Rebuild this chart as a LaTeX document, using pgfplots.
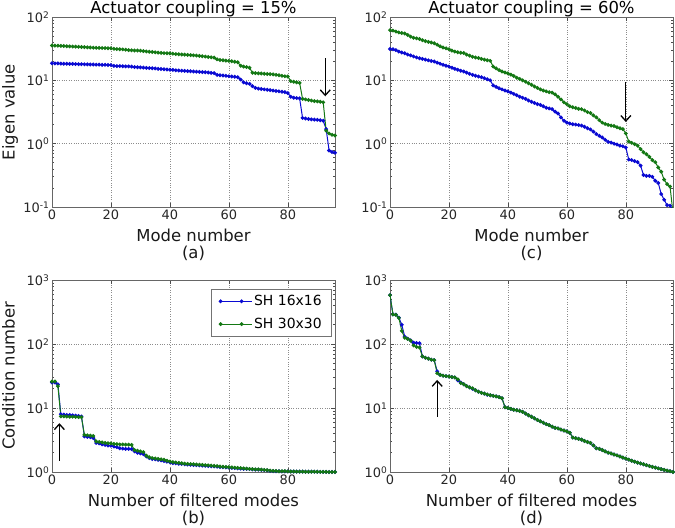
\documentclass[border=0pt]{standalone}
\usepackage{fontspec}
\setmainfont{DejaVu Sans}
\usepackage{pgfplots}
\pgfplotsset{compat=1.18}
\usepackage{pgfplotstable}
\usetikzlibrary{arrows.meta}
\definecolor{mblue}{RGB}{10,10,210}
\definecolor{mgreen}{RGB}{20,120,20}

\pgfplotstableread{
x b g
0 18.6 35.5
1 18.5 35.3
2 18.5 35.2
3 18.4 35.0
4 18.3 34.8
5 18.3 34.6
6 18.2 34.4
7 18.2 34.2
8 18.1 34.0
9 18.0 33.8
10 18.0 33.6
11 17.9 33.4
12 17.9 33.2
13 17.8 33.0
14 17.8 32.8
15 17.7 32.6
16 17.7 32.5
17 17.6 32.4
18 17.6 32.3
19 17.5 32.2
20 17.4 32.0
21 16.9 31.5
22 16.8 31.2
23 16.8 31.0
24 16.7 30.8
25 16.6 30.5
26 16.6 30.0
27 16.5 29.8
28 16.2 29.6
29 16.1 29.5
30 16.0 29.4
31 15.9 29.0
32 15.7 28.6
33 15.6 28.3
34 15.5 28.0
35 15.4 27.7
36 15.2 27.4
37 15.1 27.1
38 15.0 26.9
39 14.8 26.8
40 14.7 26.7
41 14.6 26.3
42 14.4 26.0
43 14.3 25.8
44 14.2 25.6
45 14.1 25.4
46 14.0 25.2
47 13.9 25.0
48 13.8 24.8
49 13.7 24.6
50 13.6 24.3
51 13.5 24.0
52 13.4 23.7
53 13.3 23.4
54 13.1 23.1
55 13.0 22.9
56 12.2 21.5
57 12.0 21.0
58 11.9 20.8
59 11.8 20.5
60 11.6 20.3
61 11.5 20.0
62 11.4 19.6
63 11.2 19.3
64 10.3 17.0
65 9.3 16.5
66 9.0 16.2
67 8.8 15.8
68 8.1 13.2
69 7.6 13.0
70 7.4 12.9
71 7.3 12.8
72 7.2 12.7
73 7.1 12.6
74 7.0 12.5
75 6.9 12.4
76 6.8 12.2
77 6.7 12.0
78 6.6 11.8
79 6.5 11.6
80 6.3 11.5
81 5.5 9.7
82 5.3 9.5
83 5.25 9.3
84 5.2 9.1
85 2.55 5.1
86 2.5 5.0
87 2.45 4.9
88 2.42 4.8
89 2.4 4.7
90 2.38 4.65
91 2.35 4.6
92 2.3 4.5
93 1.7 1.6
94 0.78 1.45
95 0.74 1.38
96 0.72 1.35
}\tabA

\pgfplotstableread{
x b g
0 31.3 62
1 31.0 61
2 30.0 59
3 28.5 57
4 27.5 56
5 26.7 55
6 25.5 52
7 24.8 49
8 23.8 47
9 23.0 46
10 22.3 45
11 21.8 43
12 21.3 41.5
13 20.7 40.5
14 20.2 39.5
15 19.8 38.5
16 19.0 36.5
17 18.3 34.5
18 17.6 33
19 17.0 32
20 16.5 31
21 15.8 29.5
22 15.2 28.5
23 14.7 27.8
24 14.2 27.3
25 13.8 27
26 13.2 25.5
27 12.7 24.5
28 12.2 23.5
29 11.8 23
30 11.5 22.5
31 11.2 21.8
32 10.8 21.2
33 10.4 20.8
34 10.0 20.3
35 8.3 16.5
36 7.9 15.5
37 7.5 14.5
38 7.2 13.8
39 6.9 13.3
40 6.7 12.9
41 6.4 12.3
42 6.1 11.7
43 5.8 11.0
44 5.5 10.5
45 5.3 10.0
46 5.1 9.5
47 4.8 9.0
48 4.6 8.5
49 4.4 8.0
50 4.2 7.6
51 4.1 7.2
52 3.9 6.9
53 3.7 6.7
54 3.6 6.5
55 3.5 6.4
56 3.2 6.0
57 3.0 5.5
58 2.6 5.0
59 2.3 4.5
60 2.15 4.2
61 2.08 3.9
62 2.03 3.75
63 2.0 3.65
64 1.97 3.55
65 1.93 3.5
66 1.85 3.35
67 1.75 3.15
68 1.68 3.05
69 1.55 2.8
70 1.42 2.6
71 1.33 2.35
72 1.25 2.15
73 1.15 2.05
74 1.07 1.98
75 1.04 1.93
76 1.0 1.9
77 0.97 1.82
78 0.93 1.75
79 0.91 1.7
80 0.87 1.45
81 0.56 1.08
82 0.55 1.03
83 0.53 0.98
84 0.51 0.93
85 0.45 0.82
86 0.32 0.73
87 0.31 0.68
88 0.31 0.62
89 0.30 0.55
90 0.26 0.51
91 0.24 0.42
92 0.16 0.36
93 0.13 0.27
94 0.107 0.23
95 0.105 0.21
96 0.09 0.08
}\tabC

\pgfplotstableread{
x b g
0 25 26
1 25 26
2 23.5 22
3 8.0 7.4
4 7.9 7.4
5 7.8 7.35
6 7.8 7.3
7 7.7 7.3
8 7.6 7.25
9 7.5 7.2
10 7.4 7.2
11 3.6 3.8
12 3.55 3.75
13 3.5 3.7
14 3.4 3.65
15 2.85 3.0
16 2.8 2.95
17 2.7 2.9
18 2.65 2.85
19 2.6 2.82
20 2.58 2.8
21 2.5 2.75
22 2.45 2.72
23 2.35 2.7
24 2.32 2.7
25 2.3 2.68
26 2.3 2.68
27 2.28 2.65
28 2.1 2.2
29 2.0 2.15
30 1.95 2.1
31 1.9 2.05
32 1.75 1.8
33 1.65 1.7
34 1.6 1.65
35 1.58 1.63
36 1.55 1.6
37 1.52 1.58
38 1.48 1.55
39 1.45 1.5
40 1.42 1.46
41 1.38 1.43
42 1.37 1.41
43 1.35 1.39
44 1.34 1.37
45 1.32 1.35
46 1.31 1.34
47 1.30 1.33
48 1.29 1.32
49 1.28 1.31
50 1.27 1.30
51 1.26 1.29
52 1.25 1.28
53 1.24 1.27
54 1.23 1.26
55 1.22 1.25
56 1.21 1.24
57 1.20 1.22
58 1.19 1.21
59 1.18 1.20
60 1.17 1.19
61 1.16 1.18
62 1.15 1.17
63 1.14 1.16
64 1.13 1.15
65 1.12 1.14
66 1.12 1.13
67 1.11 1.12
68 1.10 1.11
69 1.09 1.10
70 1.09 1.10
71 1.08 1.09
72 1.07 1.08
73 1.06 1.07
74 1.04 1.05
75 1.03 1.04
76 1.03 1.04
77 1.03 1.03
78 1.02 1.03
79 1.02 1.03
80 1.02 1.02
81 1.02 1.02
82 1.02 1.02
83 1.015 1.015
84 1.015 1.015
85 1.015 1.015
86 1.01 1.01
87 1.01 1.01
88 1.01 1.01
89 1.01 1.01
90 1.01 1.01
91 1.005 1.005
92 1.005 1.005
93 1.005 1.005
94 1.0 1.0
95 1.0 1.0
96 1.0 1.0
}\tabB

\pgfplotstableread{
x b g
0 580 580
1 290 290
2 288 285
3 258 255
4 200 160
5 130 125
6 121 120
7 114 113
8 105 95
9 104 90
10 103 88
11 64 64
12 61 61
13 59 59
14 57 57
15 56 56
16 37.5 35
17 33 33
18 32 32
19 31.5 31.5
20 31 31
21 30.5 30.5
22 30 30
23 27 28
24 25 24.5
25 23.5 23.5
26 22 22
27 21 21
28 20 20.3
29 19 19
30 18 18
31 17.3 17.3
32 16.8 16.8
33 16.1 16.3
34 15.8 15.8
35 15.5 15.5
36 15.2 15.2
37 14.8 14.8
38 14.2 14.2
39 10.3 10.3
40 10 10
41 9.7 9.7
42 9.4 9.4
43 9.2 9.2
44 9.0 9.0
45 8.7 8.7
46 8.2 8.2
47 7.7 7.7
48 7.3 7.3
49 6.9 6.9
50 6.5 6.5
51 6.2 6.2
52 5.9 5.9
53 5.6 5.6
54 5.4 5.4
55 5.1 5.1
56 4.9 4.9
57 4.8 4.8
58 4.6 4.6
59 4.45 4.45
60 4.3 4.3
61 4.1 4.1
62 3.45 3.45
63 3.38 3.38
64 3.3 3.3
65 3.2 3.2
66 3.05 3.05
67 2.95 2.95
68 2.85 2.85
69 2.6 2.6
70 2.35 2.35
71 2.3 2.3
72 2.2 2.2
73 2.1 2.1
74 2.0 2.0
75 1.95 1.95
76 1.88 1.88
77 1.82 1.82
78 1.75 1.75
79 1.68 1.68
80 1.62 1.62
81 1.56 1.56
82 1.5 1.5
83 1.45 1.45
84 1.4 1.4
85 1.36 1.36
86 1.32 1.32
87 1.28 1.28
88 1.24 1.24
89 1.2 1.2
90 1.17 1.17
91 1.14 1.14
92 1.11 1.11
93 1.08 1.08
94 1.05 1.05
95 1.03 1.03
96 1.0 1.0
}\tabD

\pgfplotsset{
  every axis title/.style={at={(axis description cs:0.5,1)}, anchor=base, yshift=3.5bp, font=\fontsize{16.5}{18}\selectfont, inner sep=0pt},
  myax/.style={
    scale only axis, width=283bp,
    xmin=0, xmax=96,
    xtick={0,20,40,60,80},
    xticklabels={0,20,40,60,80},
    minor ytick={0.2,0.3,0.4,0.5,0.6,0.7,0.8,0.9,2,3,4,5,6,7,8,9,20,30,40,50,60,70,80,90,200,300,400,500,600,700,800,900},
    grid=major,
    major grid style={dotted, black!45, line width=0.6pt},
    axis line style={black!60, line width=0.8pt},
    every tick/.style={black!70, line width=0.6pt},
    major tick length=4bp, minor tick length=2bp,
    tick label style={font=\fontsize{13}{15}\selectfont, text=black!85},
    xticklabel style={inner sep=0pt, yshift=-2.5bp},
    yticklabel style={inner sep=0pt, xshift=-2.5bp},
    xlabel style={font=\fontsize{16.5}{17}\selectfont, align=center, inner sep=0pt, at={(axis description cs:0.5,0)}, anchor=north, yshift=-22bp, text=black!90},
    ylabel style={font=\fontsize{16.5}{18}\selectfont, inner sep=0pt, at={(axis description cs:-0.177,0.5)}, anchor=north, text=black!90},
  },
  bl/.style={mblue, line width=1pt, mark=*, mark size=1.4pt},
  gr/.style={mgreen, line width=1pt, mark=*, mark size=1.4pt},
}
\tikzset{myarrow/.style={-{Straight Barb[length=5.5bp,width=10bp]}, line width=1.3pt, black}}

\begin{document}
\begin{tikzpicture}
\useasboundingbox (0bp,0bp) rectangle (675bp,-528bp);

\begin{semilogyaxis}[myax, height=190bp, at={(52bp,-17bp)}, anchor=north west,
  ymin=0.1, ymax=100, ytick={0.1,1,10,100},
  yticklabels={10\textsuperscript{-1},10\textsuperscript{0},10\textsuperscript{1},10\textsuperscript{2}},
  title={Actuator coupling = 15\%},
  xlabel={Mode number\\(a)}, ylabel={Eigen value}]
\addplot[bl] table[x=x,y=b]{\tabA};
\addplot[gr] table[x=x,y=g]{\tabA};
\draw[myarrow] (axis cs:92.7,22.3) -- (axis cs:92.7,5.6);
\end{semilogyaxis}

\begin{semilogyaxis}[myax, height=190bp, at={(390bp,-17bp)}, anchor=north west,
  ymin=0.1, ymax=100, ytick={0.1,1,10,100},
  yticklabels={10\textsuperscript{-1},10\textsuperscript{0},10\textsuperscript{1},10\textsuperscript{2}},
  title={Actuator coupling = 60\%},
  xlabel={Mode number\\(c)}]
\addplot[bl] table[x=x,y=b]{\tabC};
\addplot[gr] table[x=x,y=g]{\tabC};
\draw[myarrow] (axis cs:80,9.3) -- (axis cs:80,2.2);
\end{semilogyaxis}

\begin{semilogyaxis}[myax, height=192bp, at={(52bp,-280bp)}, anchor=north west,
  ymin=1, ymax=1000, ytick={1,10,100,1000},
  yticklabels={10\textsuperscript{0},10\textsuperscript{1},10\textsuperscript{2},10\textsuperscript{3}},
  xlabel={Number of filtered modes\\(b)}, ylabel={Condition number},
  legend image code/.code={\draw[#1] plot coordinates {(0bp,0bp) (21bp,0bp)}; \path (21bp,0bp) -- (31bp,0bp);},
  legend style={font=\fontsize{14}{16}\selectfont, draw=black!55, line width=0.7pt, at={(1,1)}, anchor=north east, xshift=-3bp, yshift=-9bp, inner xsep=8bp, inner ysep=4bp, row sep=7bp, nodes={inner sep=2bp}},
  legend cell align=left,
  ]
\addplot[bl] table[x=x,y=b]{\tabB};
\addlegendentry{SH 16x16}
\addplot[gr] table[x=x,y=g]{\tabB};
\addlegendentry{SH 30x30}
\draw[myarrow] (axis cs:2.5,1.5) -- (axis cs:2.5,5.8);
\end{semilogyaxis}

\begin{semilogyaxis}[myax, height=192bp, at={(390bp,-280bp)}, anchor=north west,
  ymin=1, ymax=1000, ytick={1,10,100,1000},
  yticklabels={10\textsuperscript{0},10\textsuperscript{1},10\textsuperscript{2},10\textsuperscript{3}},
  xlabel={Number of filtered modes\\(d)}]
\addplot[bl] table[x=x,y=b]{\tabD};
\addplot[gr] table[x=x,y=g]{\tabD};
\draw[myarrow] (axis cs:16,7.3) -- (axis cs:16,27.5);
\end{semilogyaxis}
\end{tikzpicture}
\end{document}
